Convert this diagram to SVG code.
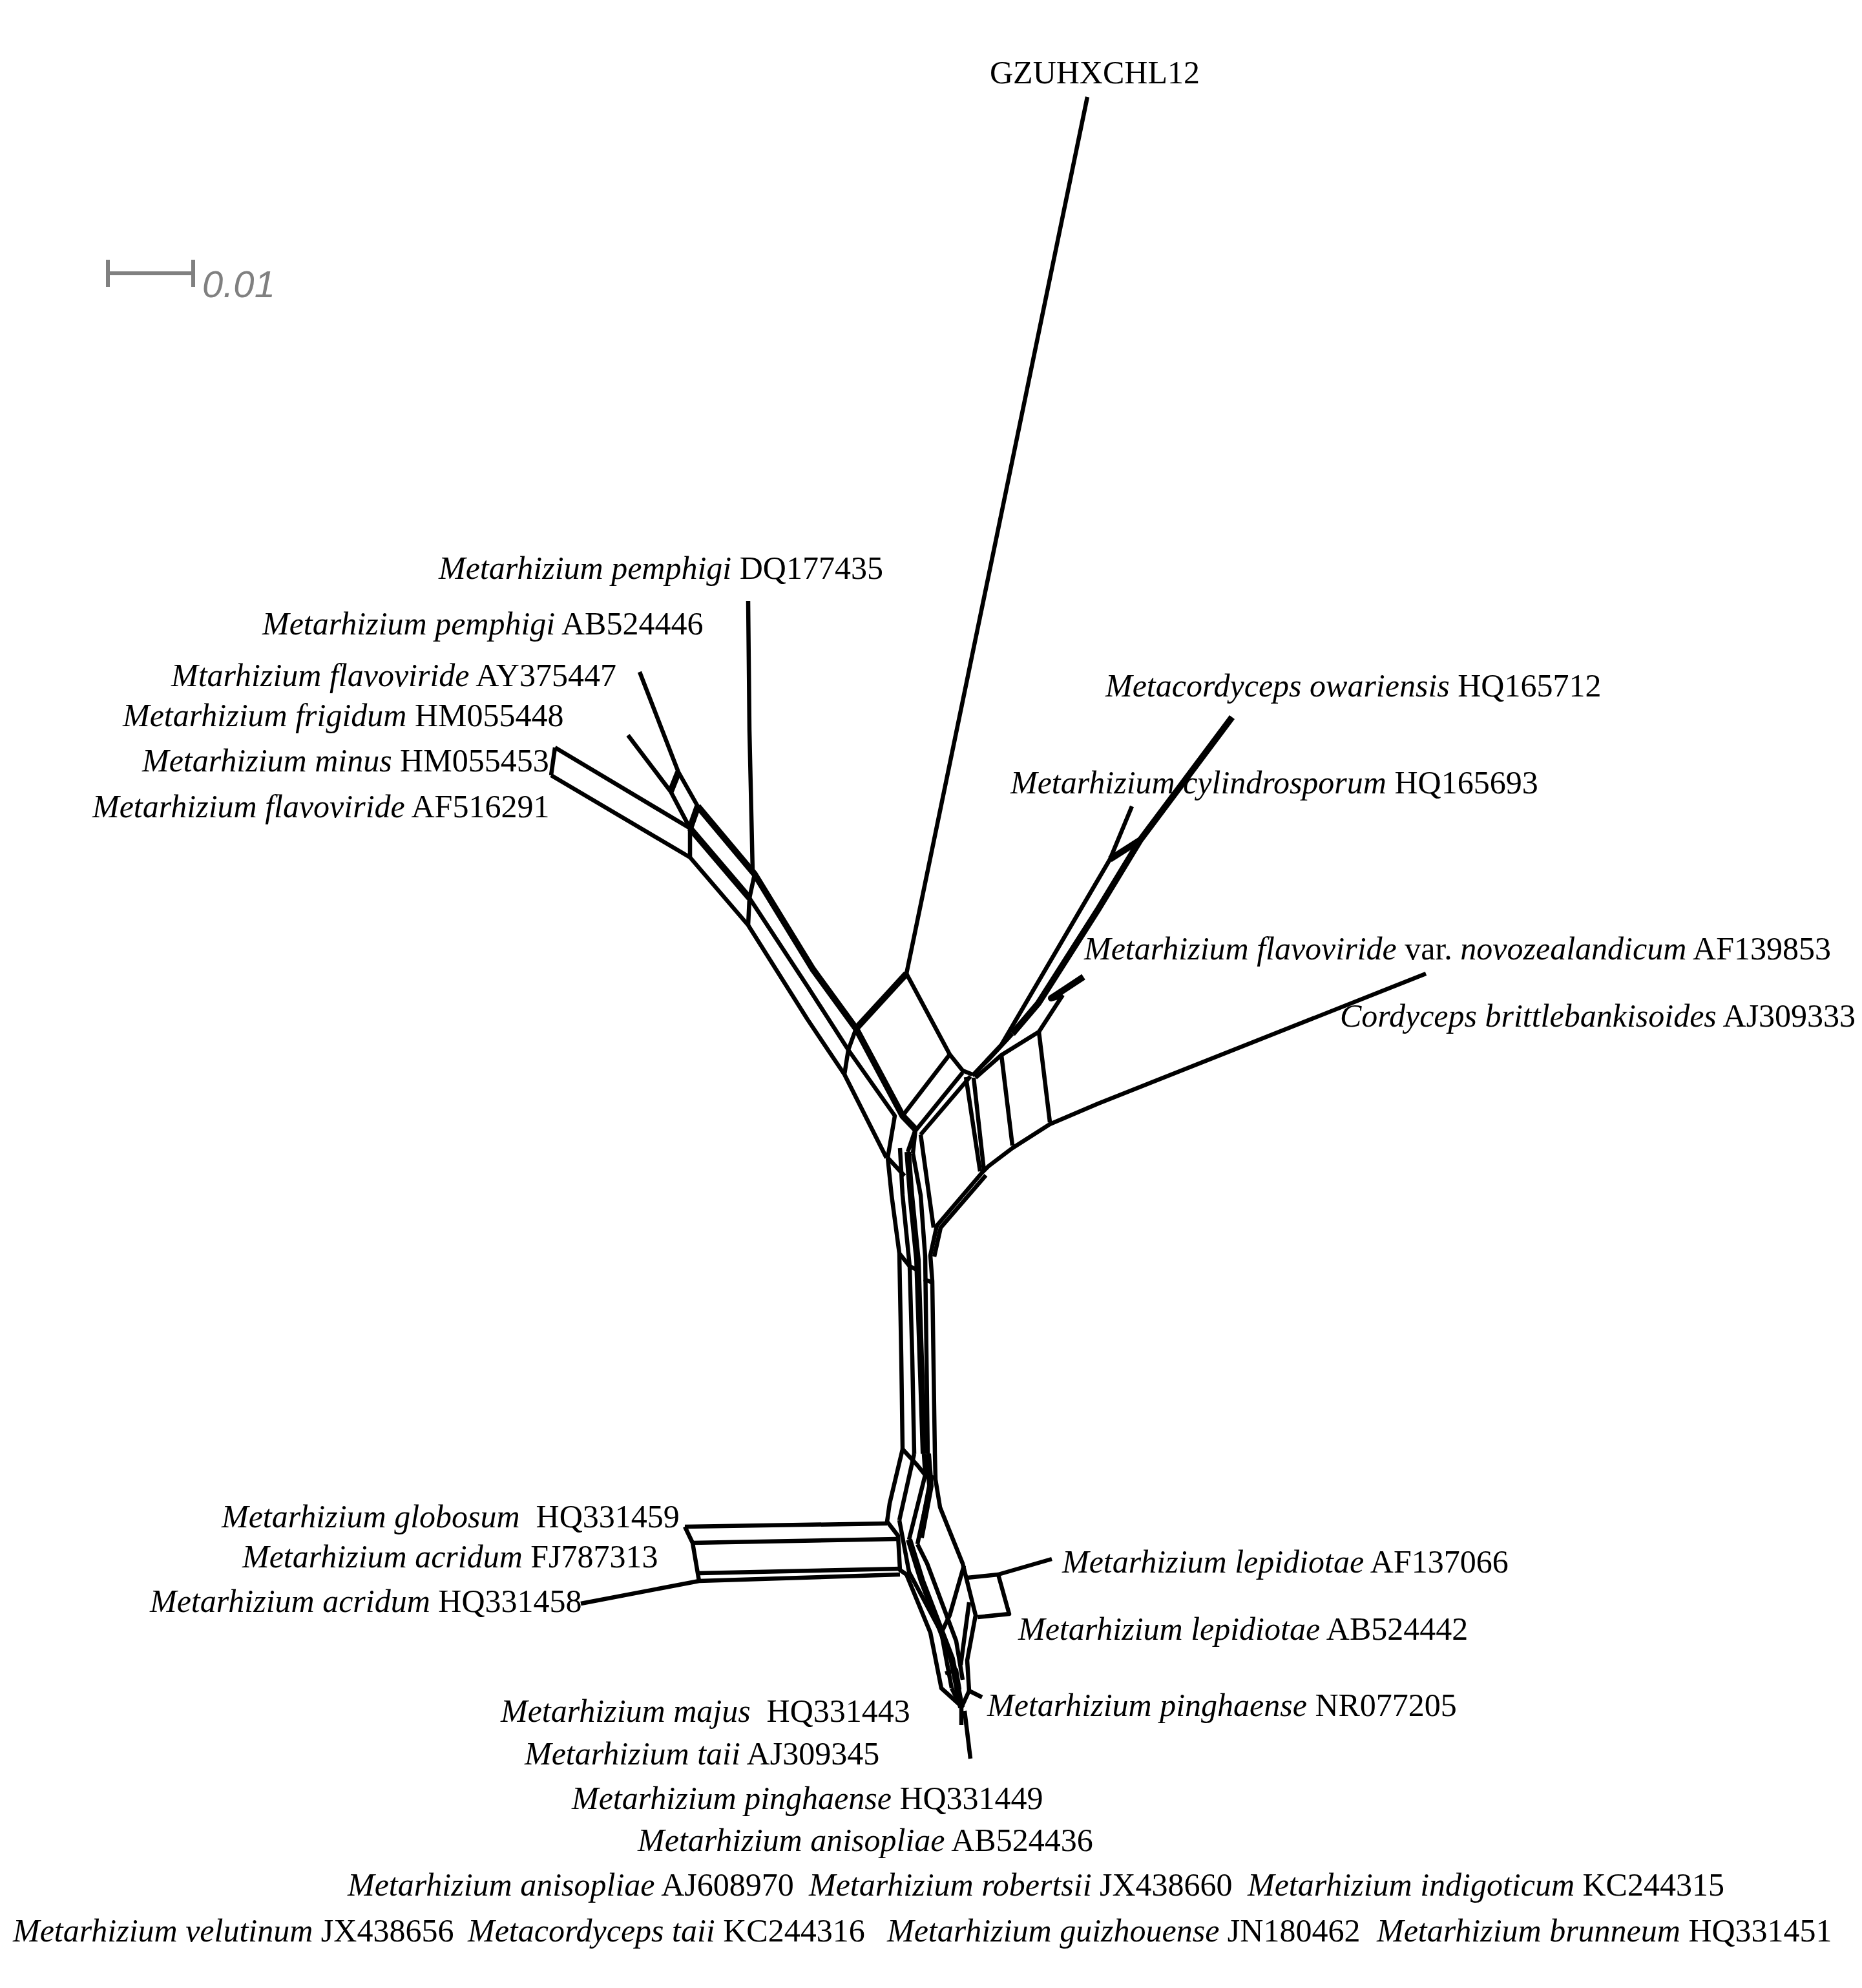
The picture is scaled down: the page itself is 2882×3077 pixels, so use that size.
<svg xmlns="http://www.w3.org/2000/svg" width="2882" height="3077" viewBox="0 0 2882 3077">
<style>
.e{fill:none;stroke:#000;stroke-width:6.5;stroke-linejoin:round;stroke-linecap:butt}
.t{stroke-width:10}
.lbl{font-family:"Liberation Serif","Times New Roman",serif;font-size:50px;fill:#000}
.i{font-style:italic}
.sb{stroke:#808080;stroke-width:6;fill:none}
</style>
<rect width="2882" height="3077" fill="#fff"/>
<g id="scale">
<path class="sb" d="M167,402 V444 M299,402 V444 M167,423 H299"/>
<text x="313" y="460" font-family="Liberation Sans,Arial,sans-serif" font-style="italic" font-size="58" fill="#808080">0.01</text>
</g>
<g id="connectors">
<!-- upper left clade -->
<path class="e" d="M990,1040 L1050,1195 L1080,1248"/>
<path class="e t" d="M1080,1248 L1168,1353 L1258,1500 L1325,1592"/>
<path class="e" d="M972,1138 L1038,1225 L1068,1282"/>
<path class="e t" d="M1050,1195 L1038,1225"/>
<path class="e t" d="M1080,1248 L1068,1282"/>
<path class="e" d="M859,1157 L1068,1282"/>
<path class="e t" d="M1068,1282 L1160,1390"/>
<path class="e" d="M1160,1390 L1250,1527 L1313,1625 L1385,1727 L1374,1792"/>
<path class="e" d="M853,1200 L1068,1327 L1158,1432 L1250,1578 L1307,1663 L1372,1792"/>
<path class="e" d="M859,1157 L853,1200"/>
<path class="e" d="M1068,1282 L1068,1327"/>
<path class="e" d="M1168,1353 L1160,1390 L1158,1432"/>
<path class="e" d="M1158,930 L1160,1130 L1165,1350"/>
<path class="e" d="M1325,1592 L1313,1625 L1307,1663"/>
<!-- GZUHXCHL12 diamond -->
<path class="e" d="M1683,150 L1403,1507"/>
<path class="e t" d="M1403,1507 L1325,1592"/>
<path class="e t" d="M1325,1592 L1397,1727 L1417,1748"/>
<path class="e" d="M1403,1507 L1470,1632 L1490,1657 L1505,1663"/>
<path class="e" d="M1470,1632 L1397,1727"/>
<path class="e" d="M1490,1660 L1417,1750"/>
<path class="e" d="M1502,1666 L1425,1756"/>
<!-- right clade -->
<path class="e" d="M1752,1248 L1718,1330 L1677,1400 L1550,1617 L1507,1663"/>
<path class="e t" d="M1907,1110 L1765,1300 L1700,1407 L1607,1553 L1567,1600"/>
<path class="e" d="M1567,1600 L1530,1640 L1505,1665"/>
<path class="e t" d="M1718,1330 L1765,1300"/>
<path class="e t" d="M1677,1512 L1627,1545 L1645,1540"/>
<path class="e" d="M1645,1540 L1608,1597 L1550,1633 L1510,1668"/>
<path class="e" d="M1608,1597 L1625,1737"/>
<path class="e" d="M1550,1633 L1567,1773"/>
<path class="e" d="M2207,1507 L1700,1708 L1625,1740 L1567,1777 L1530,1805 L1520,1815 L1450,1897 L1440,1943 L1443,1983 L1447,2250"/>
<path class="e" d="M1526,1819 L1456,1900 L1446,1945"/>
<path class="e" d="M1495,1667 L1517,1813"/>
<path class="e" d="M1507,1668 L1523,1812"/>
<!-- junction and trunk -->
<path class="e" d="M1417,1748 L1405,1783 M1417,1748 L1413,1785"/>
<path class="e" d="M1374,1792 L1400,1820"/>
<path class="e" d="M1374,1792 L1380,1850 L1392,1940 L1395,2100 L1397,2243"/>
<path class="e" d="M1393,1777 L1397,1850 L1408,1960 L1412,2100 L1415,2250"/>
<path class="e t" d="M1405,1783 L1410,1850 L1420,1950 L1430,2250"/>
<path class="e" d="M1413,1785 L1425,1850 L1432,1945 L1436,2250"/>
<path class="e" d="M1425,1756 L1438,1850 L1445,1900"/>
<path class="e" d="M1392,1940 L1408,1960 L1423,1967 M1430,1980 L1443,1985"/>
<!-- acridum box -->
<path class="e" d="M1060,2363 L1373,2358"/>
<path class="e" d="M1072,2388 L1388,2382"/>
<path class="e" d="M1082,2435 L1395,2428"/>
<path class="e" d="M899,2482 L1082,2447 L1393,2437"/>
<path class="e" d="M1060,2363 L1072,2388 L1082,2447"/>
<!-- lower cluster -->
<path class="e" d="M1397,2243 L1377,2327 L1373,2355 L1390,2377 L1393,2430 L1403,2437 L1440,2527 L1457,2613 L1487,2640"/>
<path class="e" d="M1397,2243 L1420,2268 L1432,2283"/>
<path class="e" d="M1415,2250 L1392,2353"/>
<path class="e" d="M1430,2250 L1432,2283 L1407,2383"/>
<path class="e" d="M1443,2283 L1420,2390"/>
<path class="e t" d="M1436,2250 L1440,2300 L1425,2380"/>
<path class="e" d="M1447,2250 L1448,2290 L1455,2333 L1490,2420 L1510,2500 L1497,2570 L1500,2617"/>
<path class="e t" d="M1407,2383 L1427,2447 L1473,2567 L1488,2643"/>
<path class="e" d="M1420,2390 L1435,2420 L1480,2540 L1490,2600"/>
<path class="e" d="M1392,2353 L1407,2433 L1457,2527 L1473,2613"/>
<path class="e" d="M1492,2423 L1470,2500 L1457,2527"/>
<path class="e" d="M1500,2480 L1487,2577"/>
<path class="e" d="M1463,2590 L1480,2585 L1485,2615"/>
<path class="e" d="M1473,2613 L1488,2643 L1500,2617"/>
<path class="e" d="M1488,2643 L1488,2670"/>
<path class="e" d="M1493,2648 L1502,2722"/>
<path class="e" d="M1500,2617 L1520,2627"/>
<path class="e" d="M1628,2413 L1545,2437 L1562,2498 L1513,2503"/>
<path class="e" d="M1545,2437 L1497,2442"/>
</g>
<g id="labels" class="lbl">
<g id="n-gzu"><text x="1532" y="129">GZUHXCHL12</text></g>
<g id="n-dq177435"><text x="679" y="896"><tspan class="i">Metarhizium pemphigi</tspan> DQ177435</text></g>
<g id="n-ab524446"><text x="406" y="982"><tspan class="i">Metarhizium pemphigi</tspan> AB524446</text></g>
<g id="n-ay375447"><text x="265" y="1062"><tspan class="i">Mtarhizium flavoviride</tspan> AY375447</text></g>
<g id="n-hm055448"><text x="190" y="1124"><tspan class="i">Metarhizium frigidum</tspan> HM055448</text></g>
<g id="n-hm055453"><text x="220" y="1194"><tspan class="i">Metarhizium minus</tspan> HM055453</text></g>
<g id="n-af516291"><text x="143" y="1265"><tspan class="i">Metarhizium flavoviride</tspan> AF516291</text></g>
<g id="n-hq165712"><text x="1711" y="1078"><tspan class="i">Metacordyceps owariensis</tspan> HQ165712</text></g>
<g id="n-hq165693"><text x="1564" y="1228"><tspan class="i">Metarhizium cylindrosporum</tspan> HQ165693</text></g>
<g id="n-af139853"><text x="1678" y="1485"><tspan class="i">Metarhizium flavoviride</tspan> var. <tspan class="i">novozealandicum</tspan> AF139853</text></g>
<g id="n-aj309333"><text x="2074" y="1589"><tspan class="i">Cordyceps brittlebankisoides</tspan> AJ309333</text></g>
<g id="n-hq331459"><text x="343" y="2364"><tspan class="i">Metarhizium globosum</tspan>&#160; HQ331459</text></g>
<g id="n-fj787313"><text x="375" y="2426"><tspan class="i">Metarhizium acridum</tspan> FJ787313</text></g>
<g id="n-hq331458"><text x="232" y="2495"><tspan class="i">Metarhizium acridum</tspan> HQ331458</text></g>
<g id="n-af137066"><text x="1644" y="2434"><tspan class="i">Metarhizium lepidiotae</tspan> AF137066</text></g>
<g id="n-ab524442"><text x="1576" y="2538"><tspan class="i">Metarhizium lepidiotae</tspan> AB524442</text></g>
<g id="n-nr077205"><text x="1528" y="2656"><tspan class="i">Metarhizium pinghaense</tspan> NR077205</text></g>
<g id="n-hq331443"><text x="775" y="2665"><tspan class="i">Metarhizium majus</tspan>&#160; HQ331443</text></g>
<g id="n-aj309345"><text x="812" y="2731"><tspan class="i">Metarhizium taii</tspan> AJ309345</text></g>
<g id="n-hq331449"><text x="885" y="2800"><tspan class="i">Metarhizium pinghaense</tspan> HQ331449</text></g>
<g id="n-ab524436"><text x="987" y="2865"><tspan class="i">Metarhizium anisopliae</tspan> AB524436</text></g>
<g id="n-aj608970"><text x="538" y="2934"><tspan class="i">Metarhizium anisopliae</tspan> AJ608970</text></g>
<g id="n-jx438660"><text x="1252" y="2934"><tspan class="i">Metarhizium robertsii</tspan> JX438660</text></g>
<g id="n-kc244315"><text x="1931" y="2934"><tspan class="i">Metarhizium indigoticum</tspan> KC244315</text></g>
<g id="n-jx438656"><text x="20" y="3005"><tspan class="i">Metarhizium velutinum</tspan> JX438656</text></g>
<g id="n-kc244316"><text x="724" y="3005"><tspan class="i">Metacordyceps taii</tspan> KC244316</text></g>
<g id="n-jn180462"><text x="1373" y="3005"><tspan class="i">Metarhizium guizhouense</tspan> JN180462</text></g>
<g id="n-hq331451"><text x="2131" y="3005"><tspan class="i">Metarhizium brunneum</tspan> HQ331451</text></g>
</g>
</svg>
